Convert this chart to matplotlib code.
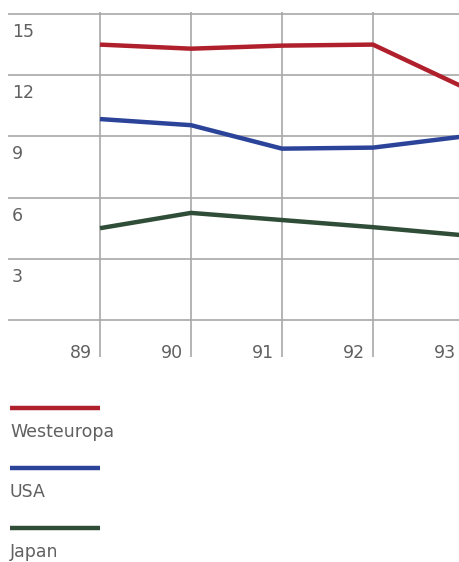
import matplotlib
matplotlib.use("Agg")
import matplotlib.pyplot as plt
from matplotlib.lines import Line2D

# Data
years = [89, 90, 91, 92, 93]
year_labels = ["89", "90", "91", "92", "93"]
westeuropa = [13.5, 13.3, 13.45, 13.5, 11.4]
usa = [9.85, 9.55, 8.4, 8.45, 9.0]
japan = [4.5, 5.25, 4.9, 4.55, 4.15]
y_ticks = [0, 3, 6, 9, 12, 15]
y_labels = ["", "3", "6", "9", "12", "15"]
series_names = ["Westeuropa", "USA", "Japan"]
colors = ["#b01f2c", "#2b449a", "#2f4d37"]

W, H = 460, 562
fig = plt.figure(figsize=(W / 100, H / 100), dpi=100)
fig.patch.set_facecolor("white")

# Chart area: top 380 px of the figure
chart_h = 380
px_per_year = 91.0
px_per_unit = 20.4
x_left = 89 - 100 / px_per_year
x_right = 89 + (W - 100) / px_per_year
y_top = 320 / px_per_unit
y_bot = (320 - chart_h) / px_per_unit

ax = fig.add_axes([0, 1 - chart_h / H, 1, chart_h / H])
ax.set_xlim(x_left, x_right)
ax.set_ylim(y_bot, y_top)
ax.axis("off")

grid_c = "#a8a8a8"
text_c = "#606060"
grid_x0 = 89 - 92 / px_per_year
ax.hlines(y_ticks, grid_x0, x_right, color=grid_c, lw=1.2, zorder=1)
ax.vlines(years, -37 / px_per_unit, 15 + 2 / px_per_unit, color=grid_c, lw=1.2, zorder=1)

for v, lab in zip(y_ticks, y_labels):
    if lab:
        ax.text(89 - 88 / px_per_year, v - 23 / px_per_unit, lab, ha="left",
                va="baseline", fontsize=12.5, color=text_c)

for yr, lab in zip(years, year_labels):
    ax.text(yr - 8 / px_per_year, -38 / px_per_unit, lab, ha="right",
            va="baseline", fontsize=12.5, color=text_c)

for vals, c in zip([westeuropa, usa, japan], colors):
    ax.plot(years, vals, color=c, lw=3.2, solid_capstyle="butt",
            solid_joinstyle="miter", zorder=3, clip_on=True)

# Legend area below the chart, in pixel units
lax = fig.add_axes([0, 0, 1, (H - chart_h) / H])
lax.set_xlim(0, W)
lax.set_ylim(H, chart_h)
lax.axis("off")
for i, (name, c) in enumerate(zip(series_names, colors)):
    ly = 408 + i * 60
    lax.add_line(Line2D([10, 100], [ly, ly], color=c, lw=3.2, solid_capstyle="butt"))
    lax.text(10, ly + 29, name, ha="left", va="baseline", fontsize=12.5, color=text_c)

fig.savefig("out.png", dpi=100, facecolor="white")
